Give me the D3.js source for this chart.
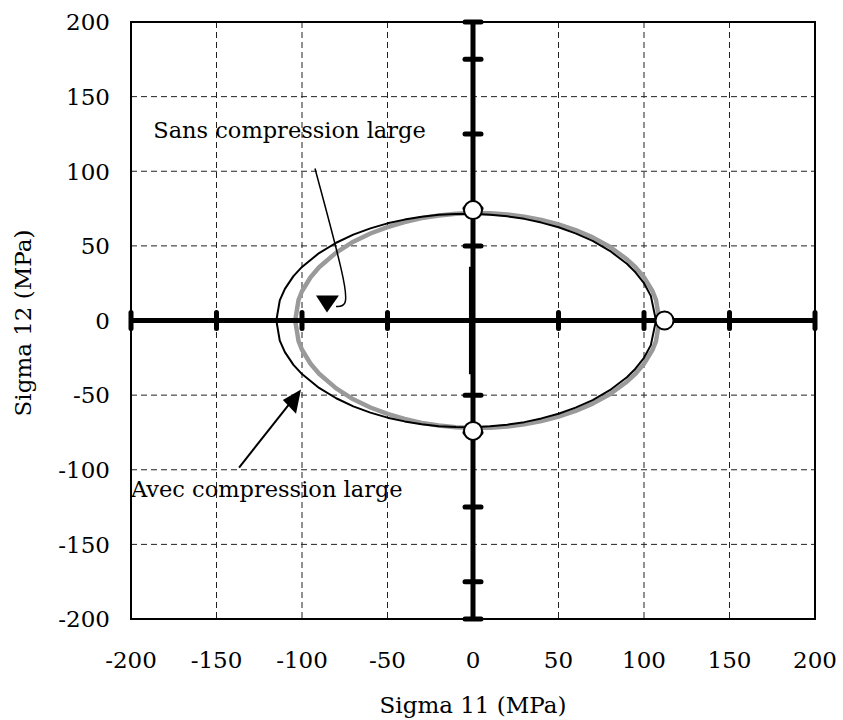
<!DOCTYPE html>
<html>
<head>
<meta charset="utf-8">
<script src="https://cdn.jsdelivr.net/npm/d3@7"></script>
<style>
  body { margin: 0; background: #fff; }
  text { font-family: "DejaVu Serif", serif; fill: #000; }
</style>
</head>
<body>
<div id="chart"></div>
<script>
// tick values for both axes
const ticks = [-200, -150, -100, -50, 0, 50, 100, 150, 200];

// "Avec compression large" envelope (black), sigma11, sigma12
const avecUpper = [
  [-115, 0], [-113, 13.5], [-110, 21.2], [-105, 29.7], [-100, 35.9], [-90, 45.2],
  [-80, 52.1], [-70, 57.5], [-60, 61.7], [-50, 65.1], [-40, 67.6], [-30, 69.5],
  [-20, 70.8], [-10, 71.4], [0, 71.5], [10, 70.9], [20, 69.8], [30, 68.1],
  [40, 65.6], [50, 62.5], [60, 58.4], [70, 53.3], [80, 46.7], [90, 38.0],
  [95, 32.3], [100, 25.0], [104, 16.5], [107, 0]
];
const avecLower = [
  [-115, 0], [-113, -13.5], [-110, -21.2], [-105, -29.7], [-100, -35.9], [-90, -45.2],
  [-80, -52.1], [-70, -57.5], [-60, -61.7], [-50, -65.1], [-40, -67.6], [-30, -69.5],
  [-20, -70.8], [-10, -71.4], [0, -71.5], [10, -70.9], [20, -69.8], [30, -68.1],
  [40, -65.6], [50, -62.5], [60, -58.4], [70, -53.3], [80, -46.7], [90, -38.0],
  [95, -32.3], [100, -25.0], [104, -16.5], [107, 0]
];

// "Sans compression large" envelope (grey)
const sansUpper = [
  [-104, 0], [-102, 13.9], [-100, 19.6], [-95, 29.0], [-90, 35.7], [-80, 45.5],
  [-70, 52.8], [-60, 58.3], [-50, 62.6], [-40, 66.0], [-30, 68.6], [-20, 70.4],
  [-10, 71.5], [0, 72.0], [10, 71.8], [20, 71.0], [30, 69.6], [40, 67.4],
  [50, 64.4], [60, 60.6], [70, 55.7], [80, 49.4], [90, 41.0], [95, 35.7],
  [100, 29.0], [105, 19.6], [107, 13.9], [109, 0]
];
const sansLower = [
  [-104, 0], [-102, -13.9], [-100, -19.6], [-95, -29.0], [-90, -35.7], [-80, -45.5],
  [-70, -52.8], [-60, -58.3], [-50, -62.6], [-40, -66.0], [-30, -68.6], [-20, -70.4],
  [-10, -71.5], [0, -72.0], [10, -71.8], [20, -71.0], [30, -69.6], [40, -67.4],
  [50, -64.4], [60, -60.6], [70, -55.7], [80, -49.4], [90, -41.0], [95, -35.7],
  [100, -29.0], [105, -19.6], [107, -13.9], [109, 0]
];

// measured strength points
const points = [[0, 74], [0, -74], [112, 0]];

// marks along the thick axes
const xAxisMarks = [-200, -150, -100, -50, 50, 100, 150, 200];
const yAxisMarks = [200, 175, 125, 75, 50, -50, -75, -125, -175, -200];
const centreBar = [[-1.2, 36], [-1.2, -36]];

// annotations (data units)
const sansLabel = [-187, 122];
const sansArrow = [[-92.4, 101.8], [-74.3, 24.8], [-73.7, 9.4], [-80.1, 9.4]];
const sansHead = [[-91.8, 16.8], [-78.4, 16.8], [-85.4, 5.4]];
const avecLabel = [-200, -118];
const avecArrow = [[-136.8, -98.5], [-104, -51]];
const avecHead = [[-100.6, -46.2], [-111.2, -53.2], [-103.5, -62.5]];

const width = 843, height = 720,
  margin = ({ top: 22, right: 28, bottom: 101, left: 131 });

const x = d3.scaleLinear()
  .domain([-200, 200])
  .range([margin.left, width - margin.right]);

const y = d3.scaleLinear()
  .domain([-200, 200])
  .range([height - margin.bottom, margin.top]);

const svg = d3.select("#chart")
  .append("svg")
  .attr("width", width)
  .attr("height", height)
  .attr("viewBox", [0, 0, width, height]);

// dashed grid
svg.append("g")
  .selectAll("line.v")
  .data(ticks.slice(1, -1))
  .join("line")
  .attr("x1", d => x(d)).attr("x2", d => x(d))
  .attr("y1", y(200)).attr("y2", y(-200))
  .attr("stroke", "#222").attr("stroke-width", 1)
  .attr("stroke-dasharray", "6,4");

svg.append("g")
  .selectAll("line.h")
  .data(ticks.slice(1, -1))
  .join("line")
  .attr("y1", d => y(d)).attr("y2", d => y(d))
  .attr("x1", x(-200)).attr("x2", x(200))
  .attr("stroke", "#222").attr("stroke-width", 1)
  .attr("stroke-dasharray", "6,4");

// frame
svg.append("rect")
  .attr("x", x(-200)).attr("y", y(200))
  .attr("width", x(200) - x(-200)).attr("height", y(-200) - y(200))
  .attr("fill", "none").attr("stroke", "#000").attr("stroke-width", 2);

// tick labels
svg.append("g")
  .selectAll("text")
  .data(ticks)
  .join("text")
  .attr("x", 110)
  .attr("y", d => y(d))
  .attr("dy", "0.36em")
  .attr("text-anchor", "end")
  .attr("font-size", 23)
  .text(d => d);

svg.append("g")
  .selectAll("text")
  .data(ticks)
  .join("text")
  .attr("x", d => x(d))
  .attr("y", 668)
  .attr("text-anchor", "middle")
  .attr("font-size", 23)
  .text(d => d);

svg.append("text")
  .attr("x", 473).attr("y", 713)
  .attr("text-anchor", "middle")
  .attr("font-size", 23)
  .text("Sigma 11 (MPa)");

svg.append("text")
  .attr("transform", `translate(31,323) rotate(-90)`)
  .attr("text-anchor", "middle")
  .attr("font-size", 23)
  .text("Sigma 12 (MPa)");

const line = d3.line().x(d => x(d[0])).y(d => y(d[1]));

// envelopes
for (const half of [sansUpper, sansLower]) {
  svg.append("path").datum(half)
    .attr("fill", "none").attr("stroke", "#9a9a9a").attr("stroke-width", 4.5)
    .attr("stroke-linejoin", "round")
    .attr("d", line);
}
for (const half of [avecUpper, avecLower]) {
  svg.append("path").datum(half)
    .attr("fill", "none").attr("stroke", "#000").attr("stroke-width", 2)
    .attr("stroke-linejoin", "round")
    .attr("d", line);
}

// thick axes through the origin
svg.append("line")
  .attr("x1", x(-200)).attr("x2", x(200))
  .attr("y1", y(0)).attr("y2", y(0))
  .attr("stroke", "#000").attr("stroke-width", 5);
svg.append("line")
  .attr("x1", x(0)).attr("x2", x(0))
  .attr("y1", y(200)).attr("y2", y(-200))
  .attr("stroke", "#000").attr("stroke-width", 5);
svg.append("path").datum(centreBar)
  .attr("stroke", "#000").attr("stroke-width", 4)
  .attr("d", line);

svg.append("g")
  .selectAll("line")
  .data(xAxisMarks)
  .join("line")
  .attr("x1", d => x(d)).attr("x2", d => x(d))
  .attr("y1", y(0) - 8).attr("y2", y(0) + 8)
  .attr("stroke", "#000").attr("stroke-width", 5)
  .attr("stroke-linecap", "round");

svg.append("g")
  .selectAll("line")
  .data(yAxisMarks)
  .join("line")
  .attr("y1", d => y(d)).attr("y2", d => y(d))
  .attr("x1", x(0) - 8).attr("x2", x(0) + 8)
  .attr("stroke", "#000").attr("stroke-width", 5)
  .attr("stroke-linecap", "round");

// points
svg.append("g")
  .selectAll("circle")
  .data(points)
  .join("circle")
  .attr("cx", d => x(d[0])).attr("cy", d => y(d[1]))
  .attr("r", 9)
  .attr("fill", "#fff").attr("stroke", "#000").attr("stroke-width", 2);

// annotations
svg.append("text")
  .attr("x", x(sansLabel[0])).attr("y", y(sansLabel[1]))
  .attr("font-size", 22.5)
  .text("Sans compression large");
svg.append("path").datum(sansArrow)
  .attr("fill", "none").attr("stroke", "#000").attr("stroke-width", 1.5)
  .attr("d", d3.line().x(d => x(d[0])).y(d => y(d[1])).curve(d3.curveBasis));
svg.append("path").datum(sansHead)
  .attr("fill", "#000")
  .attr("d", d => line(d) + "Z");

svg.append("text")
  .attr("x", x(avecLabel[0])).attr("y", y(avecLabel[1]))
  .attr("font-size", 22.5)
  .text("Avec compression large");
svg.append("path").datum(avecArrow)
  .attr("fill", "none").attr("stroke", "#000").attr("stroke-width", 2)
  .attr("d", line);
svg.append("path").datum(avecHead)
  .attr("fill", "#000")
  .attr("d", d => line(d) + "Z");
</script>
</body>
</html>
